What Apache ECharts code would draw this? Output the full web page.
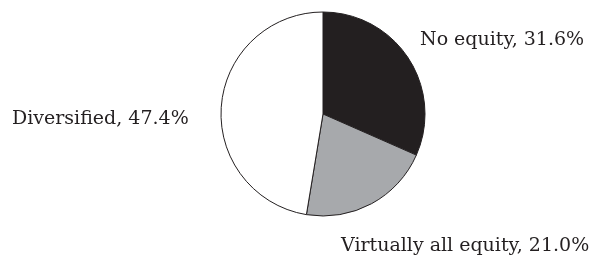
<!DOCTYPE html>
<html>
<head>
<meta charset="utf-8">
<script src="https://cdn.jsdelivr.net/npm/echarts@6/dist/echarts.min.js"></script>
<style>
html, body { margin: 0; padding: 0; background: #fff; }
#main { width: 592px; height: 263px; }
</style>
</head>
<body>
<div id="main"></div>
<script>
var categories = ['No equity', 'Virtually all equity', 'Diversified'];
var shares = [31.6, 21.0, 47.4];
var colors = ['#231f20', '#a7a9ac', '#ffffff'];

// where each label sits (left x, middle y)
var labelSpots = [[420, 40], [341, 246], [12, 119]];

var myChart = echarts.init(document.getElementById('main'));

var option = {
    animation: false,
    series: [
        {
            type: 'pie',
            center: [323, 114],
            radius: 102,
            startAngle: 90,
            clockwise: true,
            label: {
                show: true,
                position: 'outside',
                overflow: 'none',
                formatter: function (p) {
                    return p.name + ', ' + p.value.toFixed(1) + '%';
                },
                fontFamily: 'DejaVu Serif',
                fontSize: 19,
                color: '#231f20'
            },
            labelLine: { show: false },
            labelLayout: function (params) {
                var s = labelSpots[params.dataIndex];
                return { x: s[0], y: s[1], align: 'left', verticalAlign: 'middle' };
            },
            itemStyle: {
                borderColor: '#231f20',
                borderWidth: 1
            },
            emphasis: { disabled: true },
            data: categories.map(function (c, i) {
                return { name: c, value: shares[i], itemStyle: { color: colors[i] } };
            })
        }
    ]
};

myChart.setOption(option);
</script>
</body>
</html>
